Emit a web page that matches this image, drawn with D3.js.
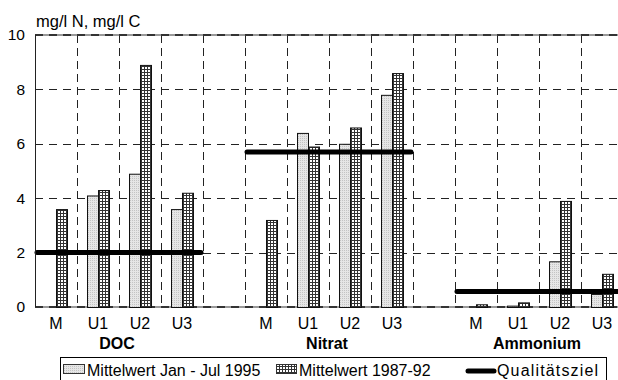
<!DOCTYPE html>
<html>
<head>
<meta charset="utf-8">
<script src="https://cdn.jsdelivr.net/npm/d3@7"></script>
<style>
  body { margin: 0; background: #fff; }
  svg { display: block; font-family: "Liberation Sans", Arial, Helvetica, sans-serif; }
</style>
</head>
<body>
<div id="chart"></div>
<script>
// data
const groups = ["DOC", "Nitrat", "Ammonium"];
const sites = ["M", "U1", "U2", "U3"];
const mean1995 = [
  [null, 4.1, 4.9, 3.6],
  [null, 6.4, 6.0, 7.8],
  [null, 0.05, 1.68, 0.48]
];
const mean8792 = [
  [3.6, 4.3, 8.9, 4.2],
  [3.2, 5.9, 6.6, 8.6],
  [0.1, 0.17, 3.9, 1.22]
];
const qualityTarget = [2.0, 5.7, 0.57];
const yTicks = [0, 2, 4, 6, 8, 10];
const legendLabels = ["Mittelwert Jan - Jul 1995", "Mittelwert 1987-92", "Qualitätsziel"];

const width = 618, height = 380;
const plotLeft = 35, plotTop = 35, plotBottom = 307;
const slotW = 42;

// one slot per site, plus an empty slot between groups
const slots = [];
groups.forEach((g, gi) => {
  sites.forEach(s => slots.push(g + "|" + s));
  if (gi < groups.length - 1) slots.push("gap" + gi);
});

const x = d3.scaleBand().domain(slots).range([plotLeft, plotLeft + slots.length * slotW]);
const y = d3.scaleLinear().domain([0, 10]).range([plotBottom, plotTop]);

const svg = d3.select("#chart").append("svg")
  .attr("width", width)
  .attr("height", height);

const defs = svg.append("defs");
const dots = defs.append("pattern")
  .attr("id", "dots").attr("patternUnits", "userSpaceOnUse")
  .attr("width", 2).attr("height", 2);
dots.append("rect").attr("width", 2).attr("height", 2).attr("fill", "#e6e6e6");
dots.append("rect").attr("width", 1).attr("height", 1).attr("fill", "#c4c4c4");

const grid = defs.append("pattern")
  .attr("id", "grid").attr("patternUnits", "userSpaceOnUse")
  .attr("width", 3).attr("height", 3);
grid.append("rect").attr("width", 3).attr("height", 3).attr("fill", "#fff");
grid.append("rect").attr("width", 3).attr("height", 1).attr("fill", "#333");
grid.append("rect").attr("width", 1).attr("height", 3).attr("fill", "#333");

// gridlines
svg.append("g")
  .selectAll("line")
  .data(yTicks.filter(t => t > 0 && t < 10))
  .join("line")
  .attr("x1", plotLeft).attr("x2", width)
  .attr("y1", d => Math.round(y(d)) + 0.5).attr("y2", d => Math.round(y(d)) + 0.5)
  .attr("stroke", "#222").attr("stroke-dasharray", "8,6");

svg.append("g")
  .selectAll("line")
  .data(slots.slice(1))
  .join("line")
  .attr("x1", d => x(d) + 0.5).attr("x2", d => x(d) + 0.5)
  .attr("y1", plotTop).attr("y2", plotBottom)
  .attr("stroke", "#222").attr("stroke-dasharray", "8,5");

// top and bottom frame
[10, 0].forEach(v => {
  svg.append("line")
    .attr("x1", plotLeft).attr("x2", width)
    .attr("y1", y(v)).attr("y2", y(v))
    .attr("stroke", "#999").attr("stroke-width", 2);
  svg.append("line")
    .attr("x1", plotLeft).attr("x2", width)
    .attr("y1", y(v)).attr("y2", y(v))
    .attr("stroke", "#333").attr("stroke-width", 2).attr("stroke-dasharray", "8,6");
});

// bars
const bw = 11;
groups.forEach((g, gi) => {
  sites.forEach((s, si) => {
    const cx = x(g + "|" + s) + x.bandwidth() / 2;
    const v1 = mean1995[gi][si], v2 = mean8792[gi][si];
    if (v1 != null) {
      svg.append("rect")
        .attr("x", cx - bw + 0.5).attr("y", y(v1) + 0.5)
        .attr("width", bw).attr("height", y(0) - y(v1))
        .attr("fill", "url(#dots)").attr("stroke", "#111");
    }
    if (v2 != null) {
      svg.append("rect")
        .attr("x", cx + 0.5).attr("y", y(v2) + 0.5)
        .attr("width", bw).attr("height", y(0) - y(v2))
        .attr("fill", "url(#grid)").attr("stroke", "#111");
    }
  });
});

// quality targets
svg.append("g")
  .selectAll("line")
  .data(groups)
  .join("line")
  .attr("x1", g => x(g + "|M") + 2)
  .attr("x2", g => x(g + "|U3") + slotW - 2)
  .attr("y1", (g, i) => y(qualityTarget[i]))
  .attr("y2", (g, i) => y(qualityTarget[i]))
  .attr("stroke", "#000").attr("stroke-width", 5).attr("stroke-linecap", "round");

// y axis
svg.append("line")
  .attr("x1", plotLeft + 0.5).attr("x2", plotLeft + 0.5)
  .attr("y1", plotTop).attr("y2", plotBottom)
  .attr("stroke", "#222");

const yAxis = svg.append("g")
  .attr("transform", `translate(${plotLeft},0)`)
  .call(d3.axisLeft(y).tickValues(yTicks).tickSize(0).tickPadding(10));
yAxis.select(".domain").remove();
yAxis.selectAll("text").attr("font-size", 15.5).attr("fill", "#000")
  .attr("font-family", "Liberation Sans, Arial, sans-serif");

svg.append("text")
  .attr("x", 36).attr("y", 27)
  .attr("font-size", 16.5)
  .text("mg/l N, mg/l C");

// x axis labels
const xAxis = svg.append("g")
  .attr("transform", `translate(0,${plotBottom})`)
  .call(d3.axisBottom(x).tickSize(0).tickPadding(11)
    .tickFormat(d => d.startsWith("gap") ? "" : d.split("|")[1]));
xAxis.select(".domain").remove();
xAxis.selectAll("text").attr("font-size", 16).attr("fill", "#000")
  .attr("font-family", "Liberation Sans, Arial, sans-serif");

svg.append("g")
  .selectAll("text")
  .data(groups)
  .join("text")
  .attr("x", g => (x(g + "|M") + x(g + "|U3") + slotW) / 2 - 2)
  .attr("y", 349)
  .attr("text-anchor", "middle")
  .attr("font-size", 16).attr("font-weight", "bold")
  .text(g => g);

// legend
const lg = svg.append("g");
lg.append("rect")
  .attr("x", 60.5).attr("y", 357.5)
  .attr("width", 546).attr("height", 40)
  .attr("fill", "#fff").attr("stroke", "#000");
lg.append("rect").attr("x", 63.5).attr("y", 364.5).attr("width", 21).attr("height", 9)
  .attr("fill", "url(#dots)").attr("stroke", "#333");
lg.append("rect").attr("x", 276.5).attr("y", 364.5).attr("width", 20).attr("height", 9)
  .attr("fill", "url(#grid)").attr("stroke", "#333");
lg.append("line").attr("x1", 468).attr("x2", 494).attr("y1", 371).attr("y2", 371)
  .attr("stroke", "#000").attr("stroke-width", 5).attr("stroke-linecap", "round");
const legendX = [87, 299, 497];
lg.selectAll("text.lab")
  .data(legendLabels)
  .join("text")
  .attr("class", "lab")
  .attr("x", (d, i) => legendX[i])
  .attr("y", 376)
  .attr("font-size", 16)
  .text(d => d);
lg.select("text.lab:last-of-type")
  .attr("textLength", 101)
  .attr("lengthAdjust", "spacing");
</script>
</body>
</html>
